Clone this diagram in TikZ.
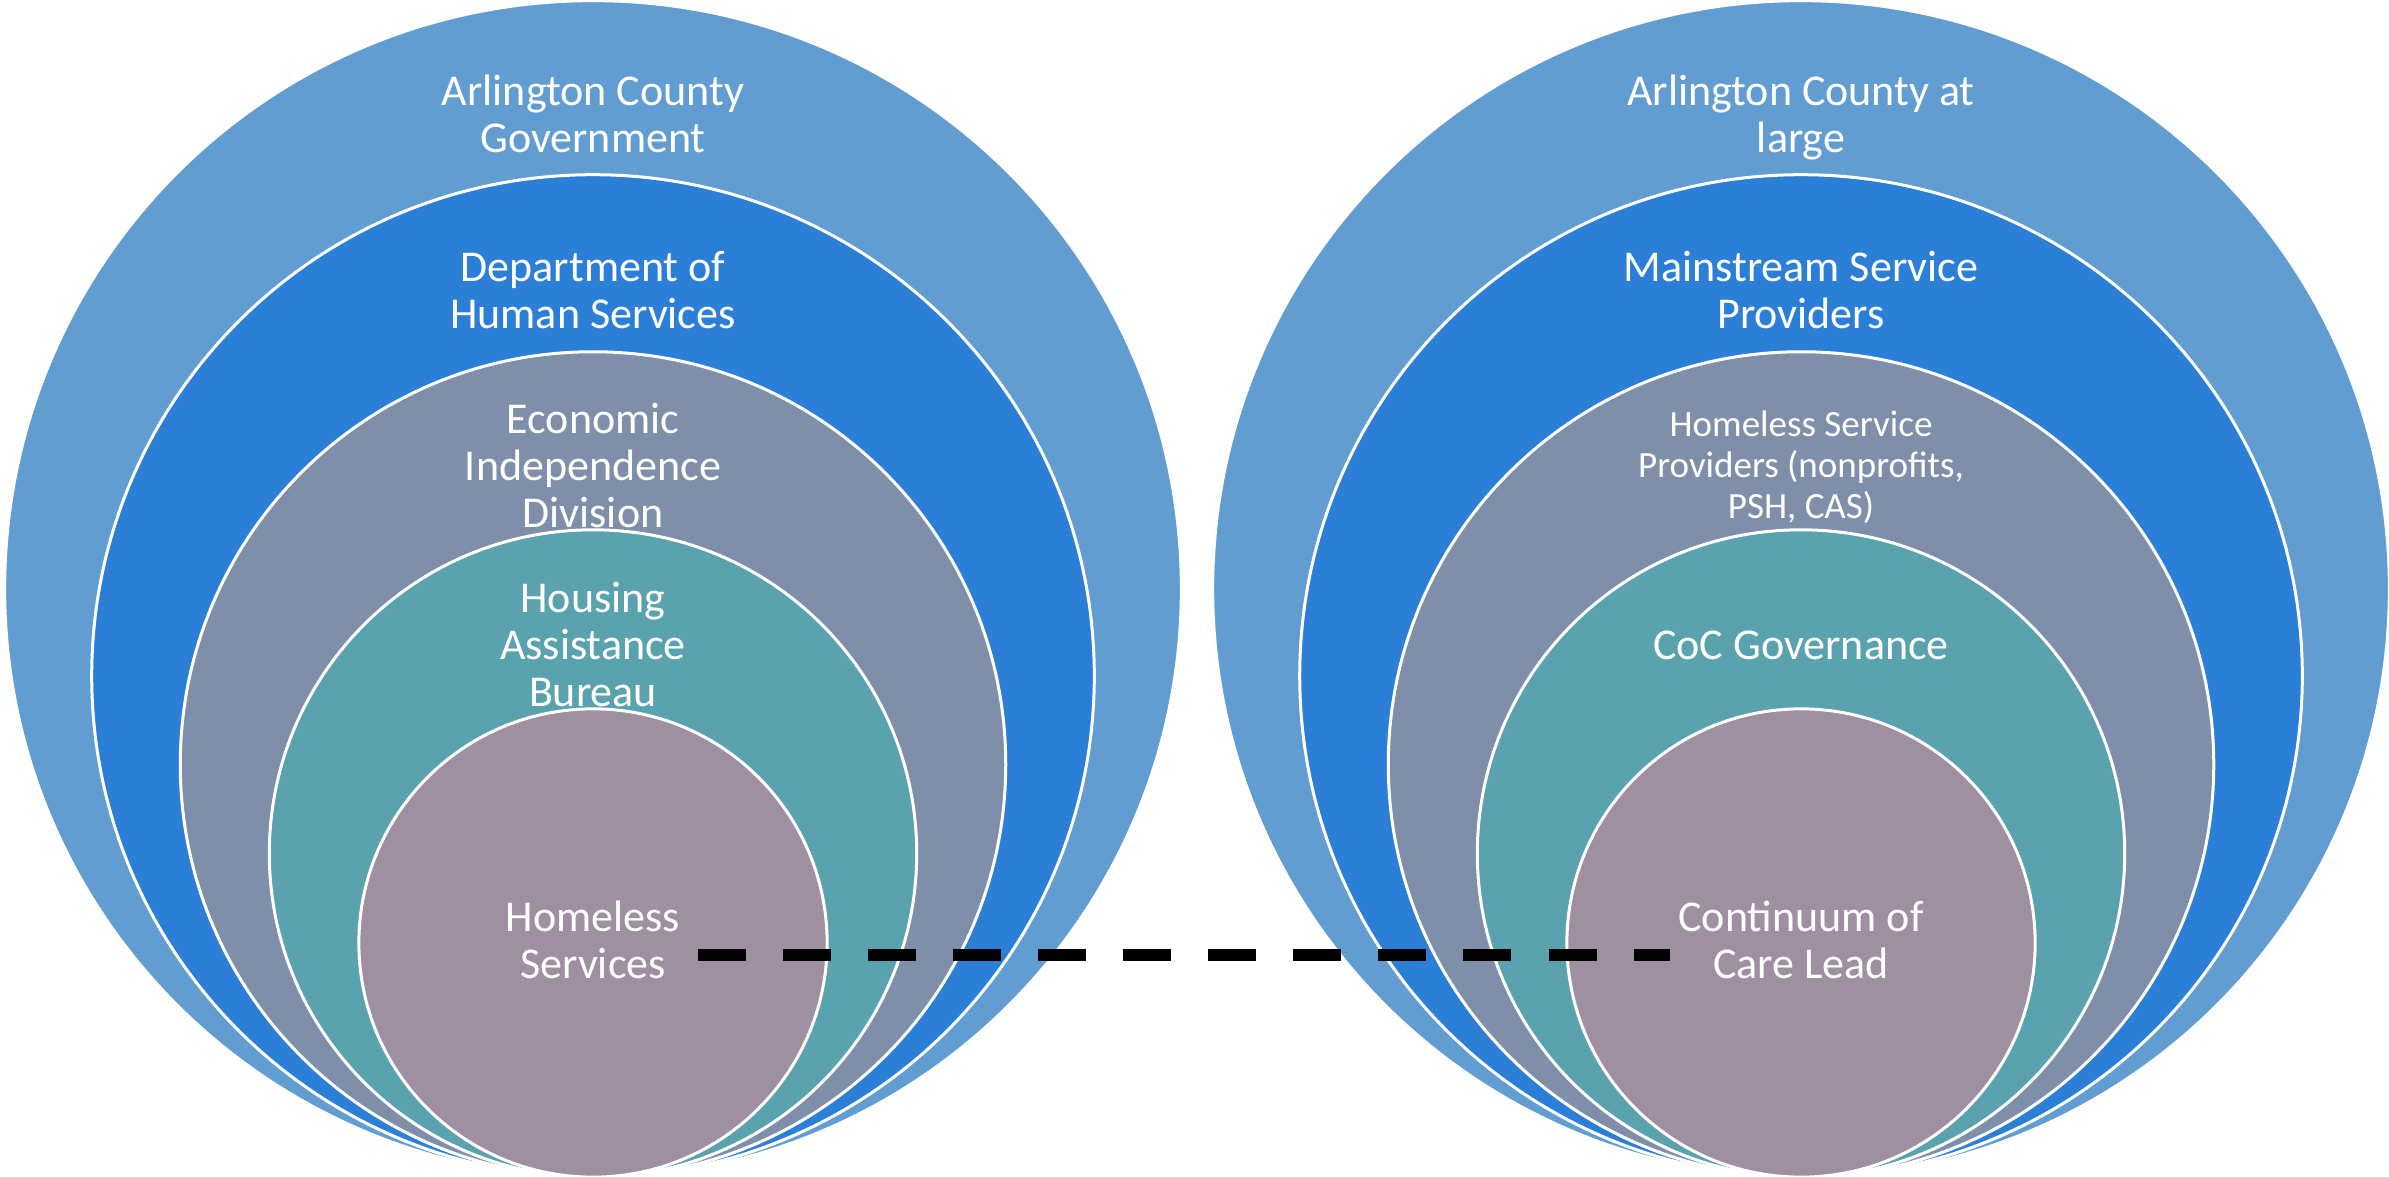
\documentclass[tikz,border=0pt]{standalone}
\usepackage{fontspec}
\setmainfont{Carlito}
\definecolor{cA}{HTML}{629DD1}
\definecolor{cB}{HTML}{2B7FD7}
\definecolor{cC}{HTML}{808FA9}
\definecolor{cD}{HTML}{5AA2AE}
\definecolor{cE}{HTML}{9E90A0}
\newcommand{\fs}{\rule{0pt}{0.40cm}}
\newcommand{\fss}{\rule{0pt}{0.34cm}}
\begin{document}
\begin{tikzpicture}[x=0.01cm,y=-0.01cm,
  ring/.style={circle,draw=white,line width=0.03cm,inner sep=0pt},
  lbl/.style={text=white,align=center,anchor=north,inner sep=0pt,font=\fontsize{12.52}{13.37}\selectfont},
  lblsmall/.style={lbl,font=\fontsize{10.53}{11.66}\selectfont},
  dashline/.style={black,line width=0.12cm,dash pattern=on 0.48cm off 0.37cm}]
\useasboundingbox (0,0) rectangle (2389,1177);
\clip (0,0) rectangle (2389,1177);
% left set
\node[ring,fill=cA,minimum size=11.76cm] (La) at (593,589) {};
\node[ring,fill=cB,minimum size=10.02cm] (Lb) at (593,676) {};
\node[ring,fill=cC,minimum size=8.25cm] (Lc) at (593,764.5) {};
\node[ring,fill=cD,minimum size=6.47cm] (Ld) at (593,853.5) {};
\node[ring,fill=cE,minimum size=4.68cm] (Le) at (593,943) {};
% right set
\node[ring,fill=cA,minimum size=11.76cm] (Ra) at (1801,589) {};
\node[ring,fill=cB,minimum size=10.02cm] (Rb) at (1801,676) {};
\node[ring,fill=cC,minimum size=8.25cm] (Rc) at (1801,764.5) {};
\node[ring,fill=cD,minimum size=6.47cm] (Rd) at (1801,853.5) {};
\node[ring,fill=cE,minimum size=4.68cm] (Re) at (1801,943) {};
% left labels
\node[lbl] (tLa) at (593,65) {\fs Arlington County\\Government};
\node[lbl] (tLb) at (593,241) {\fs Department of\\Human Services};
\node[lbl] (tLc) at (593,392.5) {\fs Economic\\Independence\\Division};
\node[lbl] (tLd) at (593,572) {\fs Housing\\Assistance\\Bureau};
\node[lbl] (tLe) at (593,891) {\fs Homeless\\Services};
% right labels
\node[lbl] (tRa) at (1801,65) {\fs Arlington County at\\large};
\node[lbl] (tRb) at (1801,241) {\fs Mainstream Service\\Providers};
\node[lblsmall] (tRc) at (1801,402) {\fss Homeless Service\\Providers (nonprofits,\\PSH, CAS)};
\node[lbl] (tRd) at (1801,619) {\fs CoC Governance};
\node[lbl] (tRe) at (1801,891) {\fs Continuum of\\Care Lead};
% dashed link
\coordinate (dL) at (698,955);
\coordinate (dR) at (1670,955);
\draw[dashline] (dL) -- (dR);
\end{tikzpicture}
\end{document}
